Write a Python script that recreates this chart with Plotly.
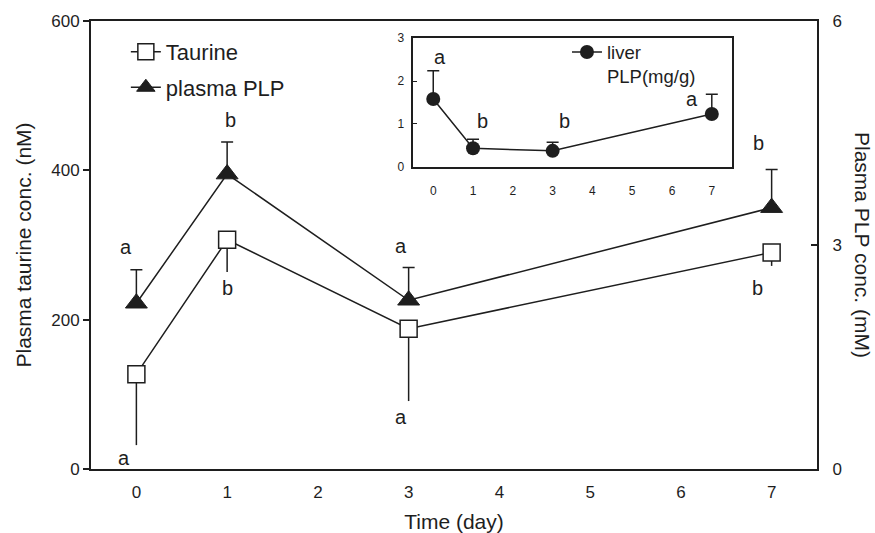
import plotly.graph_objects as go

# ---------------- data ----------------
days = [0, 1, 3, 7]

taurine = [127, 307, 188, 290]            # nM, left axis
taurine_err_down = [95, 43, 97, 18]
taurine_letters = ["a", "b", "a", "b"]

plasma_plp = [2.22, 3.95, 2.26, 3.50]     # mM, right axis
plasma_plp_err_up = [0.45, 0.43, 0.44, 0.51]
plasma_letters = ["a", "b", "a", "b"]

liver_plp = [1.58, 0.43, 0.37, 1.23]      # mg/g, inset
liver_plp_err_up = [0.66, 0.21, 0.20, 0.46]
liver_letters = ["a", "b", "b", "a"]

main_x_ticks = [0, 1, 2, 3, 4, 5, 6, 7]
left_ticks = [0, 200, 400, 600]
right_ticks = [0, 3, 6]
inset_y_ticks = [0, 1, 2, 3]

# ---------------- style ----------------
INK = "#1e1e1e"
FONT = "Liberation Sans, Arial, sans-serif"

# letter offsets in pixels (dx, dy) from error-bar ends
taurine_letter_off = [(-12, -13), (0, -16), (-8, -16), (-14, -22)]
plasma_letter_off = [(-10, 23), (3, 22), (-8, 21), (-13, 27)]
liver_letter_off = [(7, 14), (9, 18), (12, 21), (-20, -5)]

fig = go.Figure()

fig.add_trace(go.Scatter(
    x=days, y=taurine, name="Taurine", mode="lines+markers",
    line=dict(color=INK, width=1.5),
    marker=dict(symbol="square", size=17, color="white",
                line=dict(color=INK, width=1.5)),
    error_y=dict(type="data", symmetric=False,
                 array=[0] * len(days), arrayminus=taurine_err_down,
                 color=INK, thickness=1.5, width=0),
    xaxis="x", yaxis="y", legend="legend", legendgroup="t",
))

fig.add_trace(go.Scatter(
    x=days, y=plasma_plp, name="plasma PLP", mode="lines+markers",
    line=dict(color=INK, width=1.5),
    marker=dict(symbol="triangle-up", size=19, color=INK,
                line=dict(color=INK, width=1)),
    error_y=dict(type="data", symmetric=False,
                 array=plasma_plp_err_up, arrayminus=[0] * len(days),
                 color=INK, thickness=1.5, width=6),
    xaxis="x", yaxis="y2", legend="legend", legendgroup="p",
))

fig.add_trace(go.Scatter(
    x=days, y=liver_plp, name="liver<br>PLP(mg/g)", mode="lines+markers",
    line=dict(color=INK, width=1.5),
    marker=dict(symbol="circle", size=14, color=INK),
    error_y=dict(type="data", symmetric=False,
                 array=liver_plp_err_up, arrayminus=[0] * len(days),
                 color=INK, thickness=1.5, width=6),
    xaxis="x2", yaxis="y3", legend="legend2",
))

annotations = []
for d, v, e, t, (dx, dy) in zip(days, taurine, taurine_err_down,
                                 taurine_letters, taurine_letter_off):
    annotations.append(dict(x=d, y=v - e, xref="x", yref="y", text=t,
                            showarrow=False, xshift=dx, yshift=dy,
                            font=dict(size=20, color=INK, family=FONT)))
for d, v, e, t, (dx, dy) in zip(days, plasma_plp, plasma_plp_err_up,
                                 plasma_letters, plasma_letter_off):
    annotations.append(dict(x=d, y=v + e, xref="x", yref="y2", text=t,
                            showarrow=False, xshift=dx, yshift=dy,
                            font=dict(size=20, color=INK, family=FONT)))
for d, v, e, t, (dx, dy) in zip(days, liver_plp, liver_plp_err_up,
                                 liver_letters, liver_letter_off):
    annotations.append(dict(x=d, y=v + e, xref="x2", yref="y3", text=t,
                            showarrow=False, xshift=dx, yshift=dy,
                            font=dict(size=20, color=INK, family=FONT)))

annotations.append(dict(x=1.0, y=0.5, xref="paper", yref="paper",
                        text="Plasma PLP conc. (mM)", textangle=90,
                        showarrow=False, xanchor="center", yanchor="middle",
                        xshift=46,
                        font=dict(size=21, color=INK, family=FONT)))

axis_common = dict(showline=True, linecolor=INK, showgrid=False,
                   zeroline=False, tickcolor=INK, automargin=False)

fig.update_layout(
    width=875, height=533,
    margin=dict(l=91, r=58, t=21, b=64),
    paper_bgcolor="white", plot_bgcolor="white",
    font=dict(family=FONT, color=INK, size=17),
    xaxis=dict(**axis_common, linewidth=2, mirror=True, range=[-0.5, 7.5],
               tickvals=main_x_ticks, ticks="", ticklabelstandoff=7,
               title=dict(text="Time (day)", font=dict(size=21),
                          standoff=13)),
    yaxis=dict(**axis_common, linewidth=2, range=[0, 600],
               tickvals=left_ticks, ticks="outside", ticklen=6,
               tickwidth=1.5,
               title=dict(text="Plasma taurine conc. (nM)",
                          font=dict(size=21), standoff=14)),
    yaxis2=dict(**axis_common, linewidth=2, overlaying="y", side="right",
                range=[0, 6], tickvals=right_ticks, ticks="inside",
                ticklen=6, tickwidth=1.5, ticklabelstandoff=10),
    xaxis2=dict(**axis_common, linewidth=1.5, mirror=True,
                domain=[0.444, 0.8825], anchor="y3", range=[-0.5, 7.5],
                tickvals=main_x_ticks, ticks="", ticklabelstandoff=12,
                tickfont=dict(size=12)),
    yaxis3=dict(**axis_common, linewidth=1.5, mirror=True,
                domain=[0.6748, 0.9614], anchor="x2", range=[0, 3],
                tickvals=inset_y_ticks, ticks="inside", ticklen=4,
                tickwidth=1, tickfont=dict(size=12), ticklabelstandoff=5),
    legend=dict(x=0.048, y=0.978, xanchor="left", yanchor="top",
                bgcolor="rgba(0,0,0,0)", font=dict(size=22),
                traceorder="grouped", tracegroupgap=4),
    legend2=dict(x=0.6556, y=0.972, xanchor="left", yanchor="top",
                 bgcolor="rgba(0,0,0,0)", font=dict(size=18.5),
                 valign="top"),
    annotations=annotations,
    showlegend=True,
)

fig.write_html("out.html",
               config={"displayModeBar": False},
               post_script="document.body.style.margin='0px';"
                           "document.body.style.overflow='hidden';")
